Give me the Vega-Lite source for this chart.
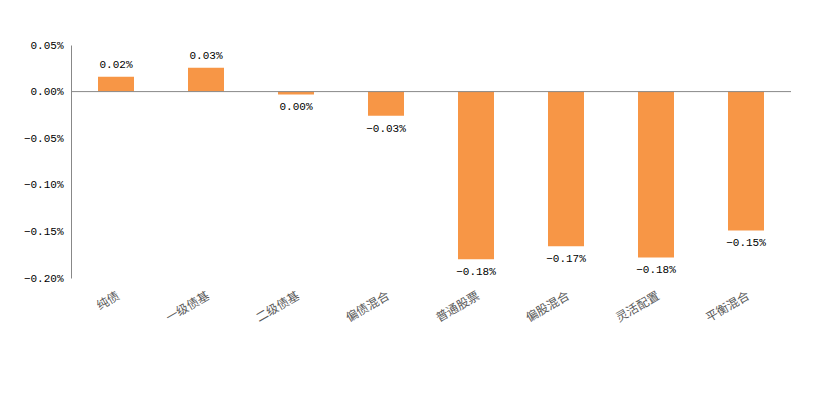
{
  "$schema": "https://vega.github.io/schema/vega-lite/v6.json",
  "width": 720,
  "height": 233,
  "autosize": {"type": "none"},
  "padding": {"left": 71, "top": 45, "right": 41, "bottom": 121},
  "background": "white",
  "config": {"view": {"stroke": null}},
  "data": {
    "values": [
      {"cat": "纯债", "v": 0.00016},
      {"cat": "一级债基", "v": 0.000255},
      {"cat": "二级债基", "v": -0.00003},
      {"cat": "偏债混合", "v": -0.000258},
      {"cat": "普通股票", "v": -0.0018},
      {"cat": "偏股混合", "v": -0.00166},
      {"cat": "灵活配置", "v": -0.00178},
      {"cat": "平衡混合", "v": -0.00149}
    ]
  },
  "encoding": {
    "x": {
      "field": "cat",
      "type": "nominal",
      "sort": null,
      "scale": {"paddingInner": 0.6, "paddingOuter": 0.3},
      "axis": {
        "title": null,
        "domain": false,
        "ticks": false,
        "labelAngle": -30,
        "labelAlign": "right",
        "labelBaseline": "top",
        "labelPadding": 12,
        "labelFont": "Noto Sans CJK SC",
        "labelFontSize": 12,
        "labelColor": "#595959"
      }
    }
  },
  "layer": [
    {
      "mark": {"type": "bar", "color": "#F79646"},
      "encoding": {
        "y": {
          "field": "v",
          "type": "quantitative",
          "scale": {"domain": [-0.002, 0.0005], "nice": false},
          "axis": {
            "title": null,
            "format": ".2%",
            "values": [-0.002, -0.0015, -0.001, -0.0005, 0, 0.0005],
            "grid": false,
            "ticks": false,
            "domainColor": "#888888",
            "domainWidth": 1,
            "labelPadding": 8,
            "labelFont": "Liberation Mono",
            "labelFontSize": 11,
            "labelColor": "#000000"
          }
        }
      }
    },
    {
      "mark": {"type": "rule", "color": "#888888", "strokeWidth": 1},
      "data": {"values": [{"z": 0}]},
      "encoding": {"y": {"field": "z", "type": "quantitative"}, "x": null}
    },
    {
      "transform": [{"filter": "datum.v >= 0"}],
      "mark": {"type": "text", "baseline": "bottom", "dy": -7, "font": "Liberation Mono", "fontSize": 11, "color": "#000000"},
      "encoding": {
        "y": {"field": "v", "type": "quantitative"},
        "text": {"field": "v", "type": "quantitative", "format": ".2%"}
      }
    },
    {
      "transform": [{"filter": "datum.v < 0"}],
      "mark": {"type": "text", "baseline": "top", "dy": 7, "font": "Liberation Mono", "fontSize": 11, "color": "#000000"},
      "encoding": {
        "y": {"field": "v", "type": "quantitative"},
        "text": {"field": "v", "type": "quantitative", "format": ".2%"}
      }
    }
  ]
}
